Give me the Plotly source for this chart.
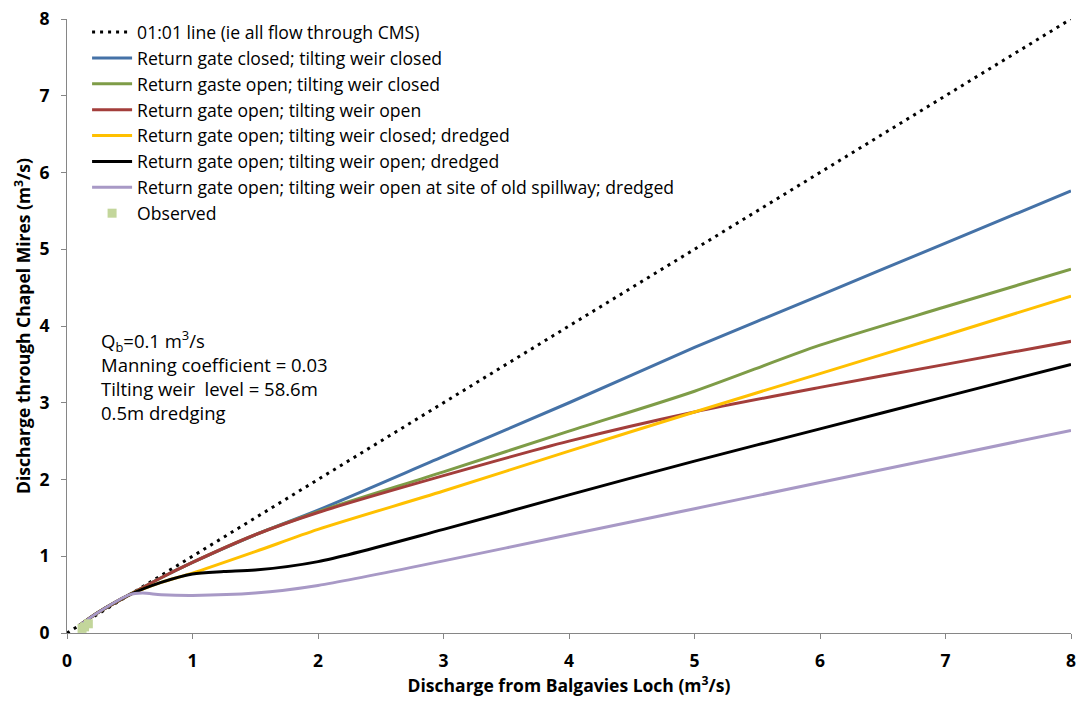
import plotly.graph_objects as go

# Data
x_one = [0, 8]
y_one = [0, 8]

x_blue = [0.1, 0.25, 0.5, 0.75, 1, 1.5, 2, 3, 4, 5, 6, 7, 8]
y_blue = [0.1, 0.27, 0.5, 0.72, 0.92, 1.28, 1.6, 2.3, 3.0, 3.72, 4.4, 5.08, 5.76]

x_green = [0.1, 0.25, 0.5, 0.75, 1, 1.5, 2, 3, 4, 5, 6, 7, 8]
y_green = [0.1, 0.27, 0.5, 0.72, 0.92, 1.28, 1.58, 2.1, 2.63, 3.15, 3.75, 4.25, 4.74]

x_red = [0.1, 0.25, 0.5, 0.75, 1, 1.5, 2, 3, 4, 5, 6, 7, 8]
y_red = [0.1, 0.27, 0.5, 0.72, 0.92, 1.28, 1.57, 2.05, 2.5, 2.88, 3.2, 3.5, 3.8]

x_yellow = [0.1, 0.25, 0.5, 0.75, 1, 1.5, 2, 3, 4, 5, 6, 7, 8]
y_yellow = [0.1, 0.27, 0.5, 0.66, 0.78, 1.06, 1.35, 1.85, 2.37, 2.88, 3.38, 3.88, 4.39]

x_black = [0.1, 0.25, 0.5, 0.75, 1, 1.25, 1.5, 2, 3, 4, 5, 6, 7, 8]
y_black = [0.1, 0.27, 0.5, 0.66, 0.77, 0.8, 0.82, 0.93, 1.35, 1.8, 2.24, 2.66, 3.08, 3.5]

x_purple = [0.1, 0.25, 0.5, 0.6, 0.75, 1, 1.5, 2, 3, 4, 5, 6, 7, 8]
y_purple = [0.1, 0.27, 0.5, 0.52, 0.5, 0.49, 0.52, 0.62, 0.94, 1.28, 1.62, 1.96, 2.3, 2.64]

x_obs = [0.12, 0.14, 0.17]
y_obs = [0.06, 0.08, 0.12]

names = [
    "01:01 line (ie all flow through CMS)",
    "Return gate closed; tilting weir closed",
    "Return gaste open; tilting weir closed",
    "Return gate open; tilting weir open",
    "Return gate open; tilting weir closed; dredged",
    "Return gate open; tilting weir open; dredged",
    "Return gate open; tilting weir open at site of old spillway; dredged",
    "Observed",
]

FONT = "Open Sans"
TXT = 18.5
LEG = 17.6

fig = go.Figure()
fig.add_trace(go.Scatter(x=x_one, y=y_one, mode="lines", name=names[0],
                         line=dict(color="black", width=3, dash="3px,5px")))
series = [
    (x_blue, y_blue, "#4572a7", names[1]),
    (x_green, y_green, "#7e9c47", names[2]),
    (x_red, y_red, "#a33e3b", names[3]),
    (x_yellow, y_yellow, "#ffc000", names[4]),
    (x_black, y_black, "#000000", names[5]),
    (x_purple, y_purple, "#a899c6", names[6]),
]
for xs, ys, c, n in series:
    fig.add_trace(go.Scatter(x=xs, y=ys, mode="lines", name=n,
                             line=dict(color=c, width=3, shape="spline", smoothing=0.8)))
fig.add_trace(go.Scatter(x=x_obs, y=y_obs, mode="markers", name=names[7],
                         marker=dict(symbol="square", size=9, color="#c3d69b")))

fig.add_annotation(
    x=0.032, y=0.503, xref="paper", yref="paper", xanchor="left", yanchor="top",
    align="left", showarrow=False,
    text="Q<sub>b</sub>=0.1 m<sup>3</sup>/s<br>Manning coefficient = 0.03<br>Tilting weir&nbsp; level = 58.6m<br>0.5m dredging",
    font=dict(family=FONT, size=TXT, color="black"),
)

axis_common = dict(range=[0, 8], dtick=1, tick0=0, showgrid=False, zeroline=False,
                   showline=True, linecolor="#868686", linewidth=1,
                   ticks="outside", ticklen=5, tickcolor="#868686", automargin=False,
                   tickfont=dict(family=FONT, size=17.5, color="black", weight="bold"))
fig.update_xaxes(**axis_common, ticklabelstandoff=7,
                 title=dict(text="<b>Discharge from Balgavies Loch (m<sup>3</sup>/s)</b>",
                            font=dict(family=FONT, size=17.5, color="black"), standoff=6))
fig.update_yaxes(**axis_common, ticklabelstandoff=8,
                 title=dict(text="<b>Discharge through Chapel Mires (m<sup>3</sup>/s)</b>",
                            font=dict(family=FONT, size=17.5, color="black"), standoff=4))

fig.update_layout(
    width=1078, height=705,
    margin=dict(l=67, r=7, t=19, b=72),
    paper_bgcolor="white", plot_bgcolor="white",
    showlegend=True,
    legend=dict(x=0.02, y=1.008, xanchor="left", yanchor="top",
                bgcolor="rgba(0,0,0,0)", font=dict(family=FONT, size=LEG, color="black"),
                tracegroupgap=0, itemwidth=40),
)

html = fig.to_html(full_html=True, config={"displayModeBar": False})
html = html.replace("<head>", "<head><style>html,body{margin:0;padding:0;}</style>", 1)
with open("out.html", "w", encoding="utf-8") as f:
    f.write(html)
